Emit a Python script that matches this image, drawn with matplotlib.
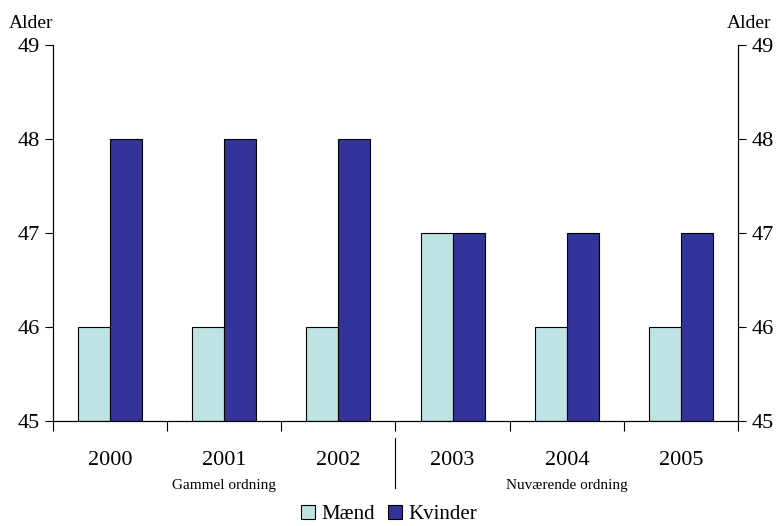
import numpy as np
import matplotlib
matplotlib.use("Agg")
import matplotlib.pyplot as plt
from matplotlib.patches import Patch

# Data
aar = ["2000", "2001", "2002", "2003", "2004", "2005"]
maend = [46, 46, 46, 47, 46, 46]
kvinder = [48, 48, 48, 47, 47, 47]
ordninger = ["Gammel ordning", "Nuværende ordning"]

plt.rcParams["font.family"] = ["Liberation Serif", "DejaVu Serif"]

fig = plt.figure(figsize=(7.78, 5.26), dpi=100)
ax = fig.add_axes([0.0681, 0.1996, 0.8805, 0.7148])

x = np.arange(len(aar))
bredde = 0.28
ax.bar(x - bredde / 2, [m - 45 for m in maend], bredde, bottom=45,
       color="#BDE3E3", edgecolor="black", linewidth=0.8, label="Mænd")
ax.bar(x + bredde / 2, [k - 45 for k in kvinder], bredde, bottom=45,
       color="#333399", edgecolor="black", linewidth=0.8, label="Kvinder")

ax.set_xlim(-0.5, len(aar) - 0.5)
ax.set_ylim(45, 49)
ax.set_yticks([45, 46, 47, 48, 49])
ax.tick_params(axis="y", labelsize=16, length=6, direction="out", width=0.8)

# kategorigrænser som ticks
ax.set_xticks(np.arange(-0.5, len(aar)), minor=False)
ax.set_xticklabels([])
ax.tick_params(axis="x", length=7, width=0.8, direction="out")
for i, a in enumerate(aar):
    ax.text(i, -0.105, a, transform=ax.get_xaxis_transform(),
            ha="center", va="center", fontsize=16)

ax.spines["top"].set_visible(False)
for s in ["left", "right", "bottom"]:
    ax.spines[s].set_linewidth(0.8)

ax2 = ax.twinx()
ax2.set_ylim(45, 49)
ax2.set_yticks([45, 46, 47, 48, 49])
ax2.tick_params(axis="y", labelsize=16, length=6, width=0.8)
ax2.spines["top"].set_visible(False)

fig.text(0.011, 0.955, "Alder", fontsize=14, ha="left", va="center")
fig.text(0.992, 0.955, "Alder", fontsize=14, ha="right", va="center")

# skillelinje mellem ordninger
ax.plot([2.5, 2.5], [-0.045, -0.178], transform=ax.get_xaxis_transform(),
        color="black", linewidth=0.8, clip_on=False)
ax.text(1, -0.172, ordninger[0], transform=ax.get_xaxis_transform(),
        ha="center", va="center", fontsize=11)
ax.text(4, -0.172, ordninger[1], transform=ax.get_xaxis_transform(),
        ha="center", va="center", fontsize=11)

handles = [Patch(facecolor="#BDE3E3", edgecolor="black", linewidth=0.8),
           Patch(facecolor="#333399", edgecolor="black", linewidth=0.8)]
fig.legend(handles, ["Mænd", "Kvinder"], loc="center", bbox_to_anchor=(0.5, 0.022),
           ncol=2, frameon=False, fontsize=15, handlelength=0.7, handleheight=0.7,
           handletextpad=0.3, columnspacing=0.6, borderpad=0)

fig.savefig("out.png", dpi=100)
